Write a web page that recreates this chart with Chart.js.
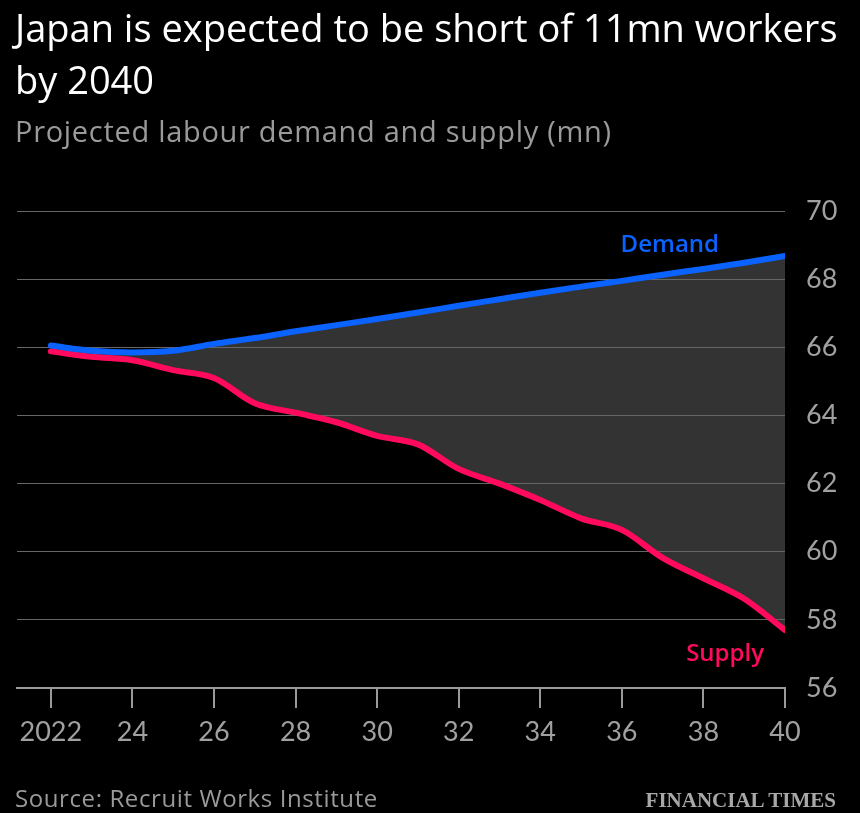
<!DOCTYPE html>
<html><head><meta charset="utf-8">
<script src="https://cdn.jsdelivr.net/npm/chart.js@4.4.1/dist/chart.umd.min.js"></script>
<style>
html,body{margin:0;padding:0;background:#000;width:860px;height:813px;overflow:hidden}
#wrap{position:relative;width:860px;height:813px}
canvas{position:absolute;left:0;top:0}
.t{position:absolute;left:15px;white-space:nowrap;font-family:'Open Sans',sans-serif}
#title{top:1px;font-size:38px;line-height:52px;color:#fff}
#sub{top:113px;font-size:29px;line-height:36px;letter-spacing:0.7px;color:#9a9a9a}
#src{top:783px;font-size:24px;line-height:30px;letter-spacing:0.6px;color:#9a9a9a}
#ft{position:absolute;right:24px;top:785px;font-family:'Liberation Serif',serif;font-weight:bold;font-size:21px;line-height:30px;color:#a8a8a8}
</style></head>
<body><div id="wrap"><canvas id="c" width="860" height="813" style="width:860px;height:813px"></canvas>
<div class="t" id="title">Japan is expected to be short of 11mn workers<br>by 2040</div>
<div class="t" id="sub">Projected labour demand and supply (mn)</div>
<div class="t" id="src">Source: Recruit Works Institute</div>
<div id="ft">FINANCIAL TIMES</div>
</div>
<script>
const years = [2022,2023,2024,2025,2026,2027,2028,2029,2030,2031,2032,2033,2034,2035,2036,2037,2038,2039,2040];
const demand = [66.05,65.9,65.85,65.9,66.1,66.27,66.47,66.65,66.83,67.02,67.22,67.41,67.6,67.78,67.95,68.13,68.3,68.48,68.68];
const supply = [65.88,65.72,65.62,65.33,65.1,64.36,64.08,63.8,63.4,63.15,62.43,62.0,61.52,60.98,60.64,59.82,59.22,58.62,57.7];
const xTicks = [2022,2024,2026,2028,2030,2032,2034,2036,2038,2040];
const yTicks = [56,58,60,62,64,66,68,70];

const demandColor = '#0a62ff';
const supplyColor = '#ff0a5c';
const tickColor = '#a0a0a0';

const labelPlugin = {
  id: 'seriesLabels',
  afterDatasetsDraw(chart) {
    const ctx = chart.ctx, xs = chart.scales.x, ys = chart.scales.y;
    const xEnd = xs.getPixelForValue(years[years.length-1]);
    ctx.save();
    ctx.font = '600 24px "Open Sans", sans-serif';
    ctx.textAlign = 'right';
    ctx.textBaseline = 'alphabetic';
    ctx.fillStyle = demandColor;
    ctx.fillText('Demand', xEnd - 66, ys.getPixelForValue(demand[demand.length-1]) - 4);
    ctx.fillStyle = supplyColor;
    ctx.fillText('Supply', xEnd - 21, ys.getPixelForValue(supply[supply.length-1]) + 31);
    ctx.restore();
  }
};

new Chart(document.getElementById('c'), {
  type: 'line',
  data: {
    datasets: [
      { label: 'Demand', data: years.map((y,i)=>({x:y,y:demand[i]})), borderColor: demandColor,
        borderWidth: 6, pointRadius: 0, cubicInterpolationMode: 'monotone', borderCapStyle: 'round',
        fill: '+1', backgroundColor: '#333333' },
      { label: 'Supply', data: years.map((y,i)=>({x:y,y:supply[i]})), borderColor: supplyColor,
        borderWidth: 6, pointRadius: 0, cubicInterpolationMode: 'monotone', borderCapStyle: 'round',
        fill: false }
    ]
  },
  options: {
    responsive: false, animation: false,
    layout: { padding: { left: 17, top: 211, right: 0, bottom: 0 } },
    plugins: { legend: { display: false }, tooltip: { enabled: false }, filler: { drawTime: 'beforeDraw' } },
    scales: {
      x: {
        type: 'linear', min: 2021.17, max: 2040,
        afterBuildTicks: s => { s.ticks = xTicks.map(v => ({ value: v })); },
        afterFit: s => { s.height = 125; },
        grid: { drawOnChartArea: false, drawTicks: true, tickLength: 20, color: '#9a9a9a', lineWidth: 2 },
        border: { display: true, color: '#9a9a9a', width: 2 },
        ticks: { color: tickColor, font: { family: 'Lato', size: 27 }, padding: 8, maxRotation: 0, autoSkip: false,
          callback: v => v === 2022 ? '2022' : String(v).slice(2) }
      },
      y: {
        position: 'right', min: 56, max: 70,
        afterBuildTicks: s => { s.ticks = yTicks.map(v => ({ value: v })); },
        afterFit: s => { s.width = 75; },
        grid: { drawTicks: false, color: '#666666', lineWidth: 1 },
        border: { display: false },
        ticks: { color: tickColor, font: { family: 'Lato', size: 27 }, padding: 21 }
      }
    }
  },
  plugins: [labelPlugin]
});
</script>
</body></html>
